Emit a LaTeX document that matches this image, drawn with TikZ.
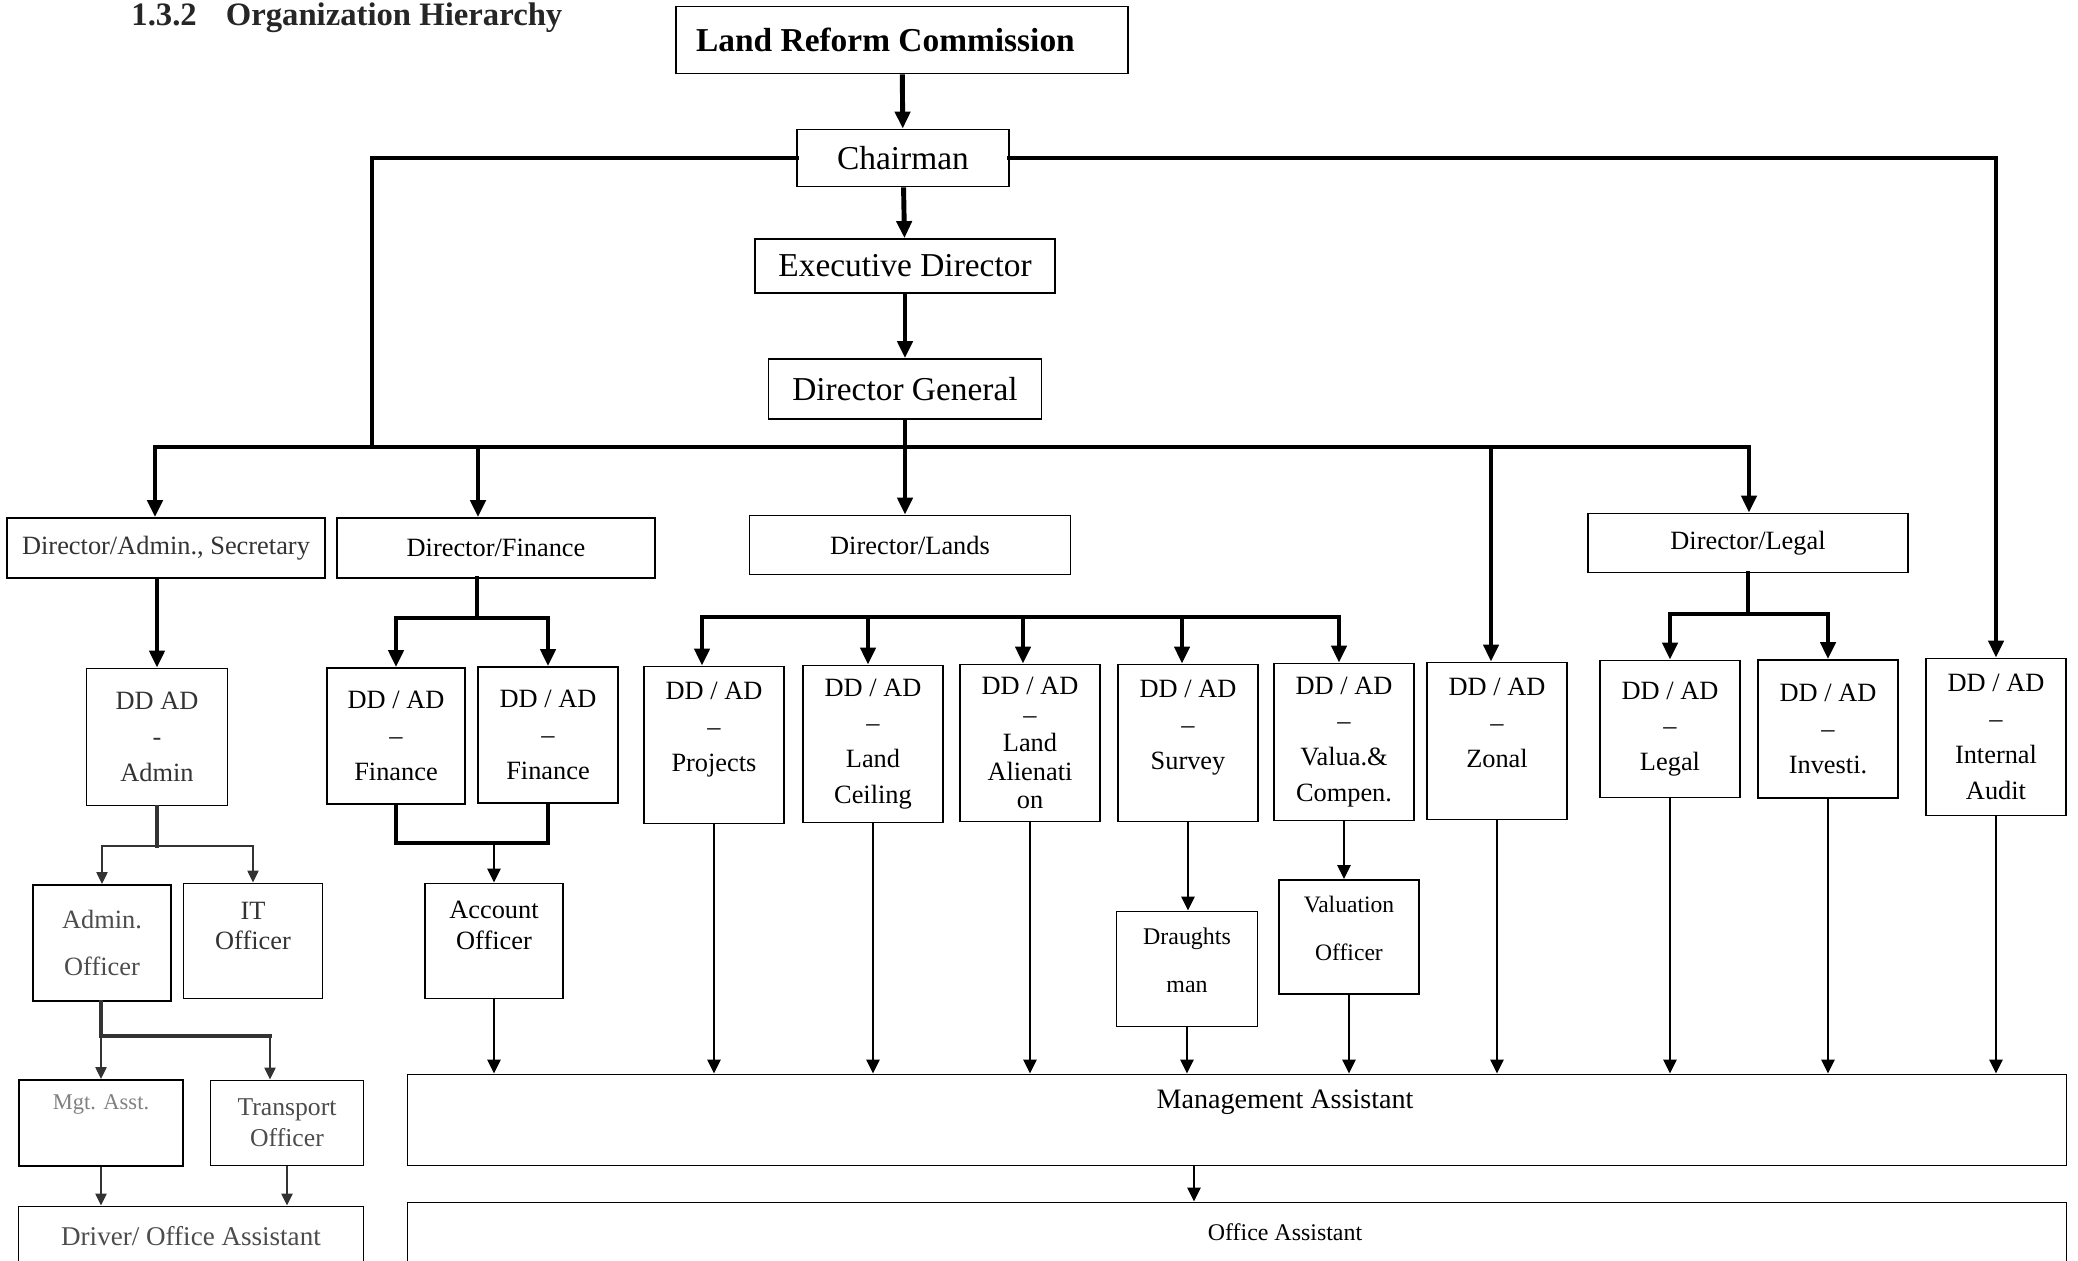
\documentclass[tikz,border=0pt]{standalone}
\usepackage{fontspec}
\setmainfont{Liberation Serif}
\usepackage{tikz}
\usetikzlibrary{arrows.meta}
\newcommand{\topfont}{\fontsize{9.5}{11}\selectfont}
\newcommand{\dirfont}{\fontsize{7.5}{9}\selectfont}
\newcommand{\ddfont}{\fontsize{7.5}{10.2}\selectfont}

\begin{document}
\begin{tikzpicture}[x=0.01cm,y=-0.01cm,
  box/.style={draw,line width=0.5pt,inner sep=1pt,align=center},
  ddbox/.style={box,minimum width=1.40cm,minimum height=1.57cm,font=\ddfont},
  bar/.style={line width=1.4pt,line cap=rect},
  barar/.style={line width=1.4pt,-{Triangle[length=1.7mm,width=1.5mm]}},
  mid/.style={line width=0.9pt,line cap=rect},
  arr/.style={line width=0.75pt,-{Triangle[length=1.4mm,width=1.3mm]}},
  sarr/.style={line width=0.6pt,black!80,-{Triangle[length=1.2mm,width=1.1mm]}}]
\useasboundingbox (0,0) rectangle (2078,1260);
\node[anchor=base west,text=black!85,font=\bfseries\fontsize{9.3}{11}\selectfont] (title) at (119,25) {1.3.2\hspace{0.29cm}Organization Hierarchy};
\node[box,minimum width=4.51cm,minimum height=0.67cm,font=\bfseries\topfont] (lrc) at (902,40) {Land Reform Commission\hspace*{0.33cm}};
\node[box,minimum width=2.12cm,minimum height=0.57cm,font=\topfont] (chair) at (903,158) {Chairman};
\node[box,minimum width=3.00cm,minimum height=0.54cm,font=\topfont] (exec) at (905,266) {Executive Director};
\node[box,minimum width=2.73cm,minimum height=0.60cm,font=\topfont] (dg) at (905,389) {Director General};
\node[box,minimum width=3.18cm,minimum height=0.60cm,font=\dirfont,text=black!80] (dadmin) at (166,548) {Director/Admin., Secretary};
\node[box,minimum width=3.18cm,minimum height=0.60cm,font=\dirfont] (dfin) at (496,548) {Director/Finance};
\node[box,minimum width=3.21cm,minimum height=0.59cm,font=\dirfont] (dlands) at (910,545) {Director/Lands};
\node[box,minimum width=3.20cm,minimum height=0.59cm,font=\dirfont] (dlegal) at (1748,543) {Director/Legal};
\node[box,minimum width=1.41cm,minimum height=1.37cm,font=\ddfont,text=black!80] (ddadmin) at (157,737) {DD AD\\-\\Admin};
\node[box,minimum width=1.38cm,minimum height=1.16cm,font=\fontsize{7.5}{13.3}\selectfont,text=black!70] (adminoff) at (102,943) {Admin.\\Officer};
\node[box,minimum width=1.39cm,minimum height=1.15cm,font=\fontsize{7.5}{8.5}\selectfont,text=black!80] (itoff) at (253,941) {IT\\Officer\\\mbox{}};
\node[box,minimum width=1.64cm,minimum height=0.86cm,text depth=0.41cm,font=\fontsize{6.4}{8}\selectfont,text=black!50] (mgtasst) at (101,1123) {Mgt. Asst.};
\node[box,minimum width=1.53cm,minimum height=0.85cm,font=\fontsize{7.3}{8.8}\selectfont,text=black!70] (transport) at (287,1123) {Transport\\Officer};
\node[box,minimum width=3.45cm,minimum height=0.59cm,font=\fontsize{7.7}{9}\selectfont,text=black!70] (driver) at (191,1236) {Driver/ Office Assistant};
\node[box,minimum width=1.38cm,minimum height=1.36cm,font=\ddfont] (ddfin1) at (396,736) {DD / AD\\--\\Finance};
\node[box,minimum width=1.40cm,minimum height=1.36cm,font=\ddfont] (ddfin2) at (548,735) {DD / AD\\--\\Finance};
\node[box,minimum width=1.38cm,minimum height=1.15cm,font=\fontsize{7.5}{9}\selectfont] (accoff) at (494,941) {Account\\Officer\\\mbox{}};
\node[ddbox] (projects) at (714,745) {DD / AD\\--\\Projects\\\mbox{}};
\node[ddbox] (ceiling) at (873,744) {DD / AD\\--\\Land\\Ceiling};
\node[ddbox,font=\fontsize{7.5}{8.1}\selectfont] (alien) at (1030,743) {DD / AD\\--\\Land\\Alienati\\on};
\node[ddbox] (survey) at (1188,743) {DD / AD\\--\\Survey\\\mbox{}};
\node[ddbox] (valua) at (1344,742) {DD / AD\\--\\Valua.\&\\Compen.};
\node[ddbox] (zonal) at (1497,741) {DD / AD\\--\\Zonal\\\mbox{}};
\node[ddbox,minimum height=1.37cm] (legal) at (1670,729) {DD / AD\\--\\Legal};
\node[ddbox,minimum height=1.38cm] (investi) at (1828,729) {DD / AD\\--\\Investi.};
\node[ddbox] (audit) at (1996,737) {DD / AD\\--\\Internal\\Audit};
\node[box,minimum width=1.41cm,minimum height=1.15cm,font=\fontsize{6.8}{13.6}\selectfont] (draughts) at (1187,969) {Draughts\\man\\[-0.3cm]\mbox{}};
\node[box,minimum width=1.40cm,minimum height=1.14cm,font=\fontsize{6.7}{13.6}\selectfont] (valoff) at (1349,937) {Valuation\\Officer\\[-0.3cm]\mbox{}};
\node[box,minimum width=16.58cm,minimum height=0.91cm,text depth=0.41cm,font=\fontsize{8}{9}\selectfont] (ma) at (1237,1120) {\hspace*{0.96cm}Management Assistant};
\node[box,minimum width=16.58cm,minimum height=0.59cm,font=\fontsize{6.8}{8}\selectfont] (oa) at (1237,1232) {\hspace*{0.96cm}Office Assistant};
\coordinate (cj) at (372,447);
\coordinate (busL) at (155,447);
\coordinate (busR) at (1749,447);
\coordinate (bfin) at (478,447);
\coordinate (bzon) at (1491,447);
\draw[barar] (lrc) -- (chair);
\draw[barar] (chair) -- (exec);
\draw[barar] (exec) -- (dg);
\draw[bar] (chair.west) -| (cj);
\draw[barar,line cap=rect] (chair.east) -| (audit.north);
\draw[bar] (busL) -- (busR);
\draw[barar] (dg.south) -- (dg.south |- dlands.north);
\draw[barar] (busL) -- (busL |- dadmin.north);
\draw[barar] (bfin) -- (bfin |- dfin.north);
\draw[barar] (bzon) -- (bzon |- zonal.north);
\draw[barar] (busR) -- (busR |- dlegal.north);
\draw[barar] (ddadmin.north |- dadmin.south) -- (ddadmin.north);
\coordinate (ja) at (157,846);
\draw[mid,black!80] (ddadmin.south) -- (ja);
\draw[sarr] (ja) -| (adminoff.north);
\draw[sarr] (ja) -| (itoff.north);
\coordinate (jb) at (101,1036);
\coordinate (jc) at (270,1036);
\draw[mid,black!80] (adminoff.south -| jb) -- (jb) -- (jc);
\draw[sarr] (jb) -- (jb |- mgtasst.north);
\draw[sarr] (jc) -- (jc |- transport.north);
\draw[sarr] (jb |- mgtasst.south) -- (jb |- driver.north);
\draw[sarr] (transport.south) -- (transport.south |- driver.north);
\coordinate (jf) at (477,618);
\draw[bar] (jf |- dfin.south) -- (jf);
\draw[barar] (jf) -| (ddfin1.north);
\draw[barar] (jf) -| (ddfin2.north);
\coordinate (jg) at (494,843);
\draw[mid] (ddfin1.south) |- (jg) -| (ddfin2.south);
\draw[arr] (jg) -- (accoff.north);
\draw[arr] (accoff.south) -- (accoff.south |- ma.north);
\foreach \n/\x in {projects/702,ceiling/868,alien/1023,survey/1182,valua/1339}
  \coordinate (l-\n) at (\x,617);
\draw[bar] (l-projects) -- (l-valua);
\foreach \n in {projects,ceiling,alien,survey,valua}
  \draw[barar] (l-\n) -- (l-\n |- \n.north);
\coordinate (jl) at (1748,614);
\draw[bar] (dlegal.south) -- (jl);
\draw[barar] (jl) -| (legal.north);
\draw[barar] (jl) -| (investi.north);
\draw[arr] (survey.south) -- (survey.south |- draughts.north);
\draw[arr] (valua.south) -- (valua.south |- valoff.north);
\foreach \n in {projects,ceiling,alien,draughts,valoff,zonal,legal,investi,audit}
  \draw[arr] (\n.south) -- (\n.south |- ma.north);
\draw[arr] ([xshift=-0.43cm]ma.south) -- ([xshift=-0.43cm]oa.north);
\end{tikzpicture}
\end{document}
